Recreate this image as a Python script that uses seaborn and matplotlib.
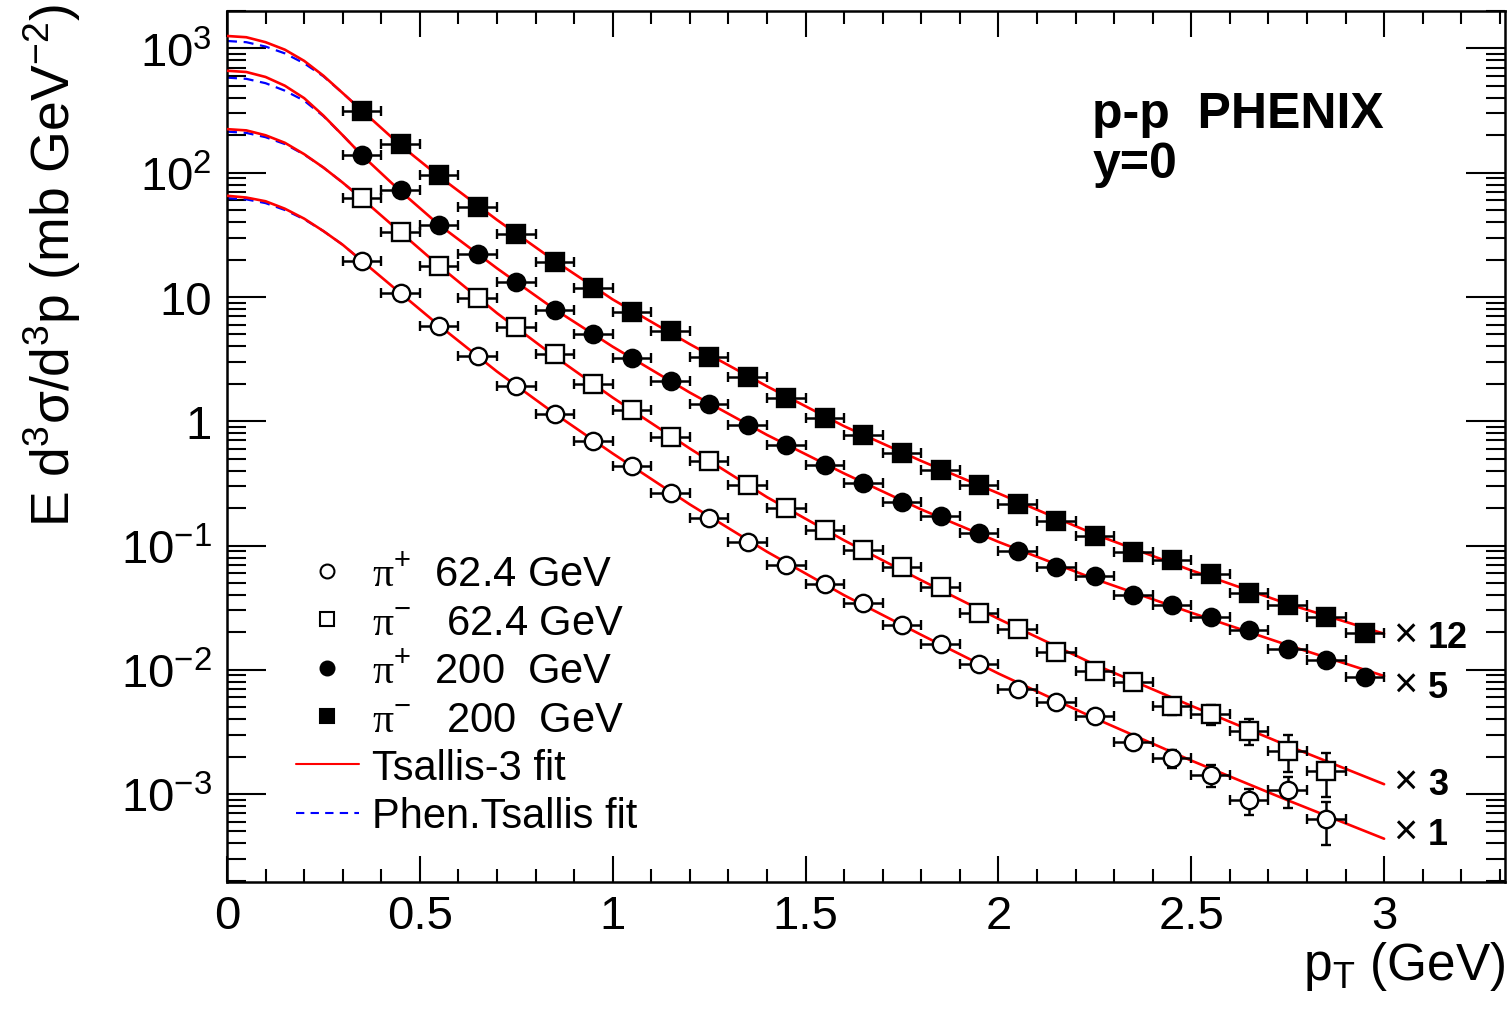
import matplotlib
matplotlib.use("Agg")
import matplotlib.pyplot as plt
from matplotlib.lines import Line2D
from matplotlib.ticker import FixedLocator, FixedFormatter, LogLocator, NullFormatter
import numpy as np
import pandas as pd
import seaborn as sns

# ---------------- data ----------------
pt_200 = [0.35, 0.45, 0.55, 0.65, 0.75, 0.85, 0.95, 1.05, 1.15, 1.25, 1.35, 1.45, 1.55, 1.65,
          1.75, 1.85, 1.95, 2.05, 2.15, 2.25, 2.35, 2.45, 2.55, 2.65, 2.75, 2.85, 2.95]
pt_624 = [0.35, 0.45, 0.55, 0.65, 0.75, 0.85, 0.95, 1.05, 1.15, 1.25, 1.35, 1.45, 1.55, 1.65,
          1.75, 1.85, 1.95, 2.05, 2.15, 2.25, 2.35, 2.45, 2.55, 2.65, 2.75, 2.85]

# pi- 200 GeV (x12)
pim_200 = [315, 170, 96.2, 53.2, 32.1, 19.0, 11.9, 7.52, 5.29, 3.31, 2.28, 1.54, 1.07, 0.774,
           0.555, 0.407, 0.308, 0.216, 0.158, 0.120, 0.0883, 0.0764, 0.0590, 0.0415, 0.0332,
           0.0264, 0.0197]
# pi+ 200 GeV (x5)
pip_200 = [139, 72.1, 38.1, 22.0, 13.3, 7.88, 5.03, 3.21, 2.11, 1.37, 0.931, 0.644, 0.447,
           0.318, 0.223, 0.172, 0.125, 0.0908, 0.0675, 0.0566, 0.0401, 0.0334, 0.0267, 0.0209,
           0.0147, 0.0120, 0.00881]
# pi- 62.4 GeV (x3)
pim_624 = [62.1, 33.1, 17.8, 9.75, 5.76, 3.47, 1.99, 1.22, 0.750, 0.481, 0.308, 0.199, 0.133,
           0.0920, 0.0668, 0.0461, 0.0285, 0.0213, 0.0139, 0.00984, 0.00793, 0.00514, 0.00441,
           0.00324, 0.00223, 0.00154]
# pi+ 62.4 GeV (x1)
pip_624 = [19.5, 10.7, 5.86, 3.36, 1.91, 1.14, 0.697, 0.436, 0.264, 0.166, 0.106, 0.0701,
           0.0490, 0.0343, 0.0231, 0.0161, 0.0111, 0.00701, 0.00551, 0.00421, 0.00261, 0.00194,
           0.00143, 0.000890, 0.00108, 0.000631]

# relative vertical errors
relerr_200 = [0.03, 0.03, 0.03, 0.03, 0.03, 0.03, 0.03, 0.03, 0.03, 0.03, 0.03, 0.03, 0.03, 0.03,
              0.03, 0.03, 0.03, 0.03, 0.03, 0.03, 0.03, 0.03, 0.03, 0.03, 0.03, 0.03, 0.03]
relerr_pim_624 = [0.04, 0.04, 0.04, 0.04, 0.04, 0.04, 0.04, 0.04, 0.04, 0.04, 0.04, 0.04, 0.04,
                  0.04, 0.04, 0.04, 0.04, 0.04, 0.04, 0.04, 0.07, 0.16, 0.18, 0.24, 0.33, 0.38]
relerr_pip_624 = [0.04, 0.04, 0.04, 0.04, 0.04, 0.04, 0.04, 0.04, 0.04, 0.04, 0.04, 0.04, 0.04,
                  0.04, 0.04, 0.04, 0.04, 0.04, 0.04, 0.04, 0.07, 0.16, 0.20, 0.24, 0.28, 0.38]
bin_half_width = 0.05

# Tsallis-3 fit curves
pt_fit = [0.0, 0.05, 0.1, 0.15, 0.2, 0.25, 0.3, 0.35, 0.45, 0.55, 0.7, 0.85, 1.0, 1.2, 1.4,
          1.6, 1.8, 2.0, 2.25, 2.5, 2.75, 3.0]
fit_pim_200 = [1259, 1230, 1122, 977, 794, 603, 437, 316, 166, 93.3, 41.7, 19.5, 9.55, 4.17,
               1.91, 0.912, 0.479, 0.263, 0.123, 0.0631, 0.0339, 0.0195]
fit_pip_200 = [661, 646, 589, 501, 398, 288, 200, 138, 70.8, 38.0, 17.0, 7.94, 3.98, 1.70,
               0.776, 0.380, 0.195, 0.107, 0.0537, 0.0288, 0.0158, 0.00891]
fit_pim_624 = [224, 219, 200, 174, 141, 110, 83.2, 61.7, 33.1, 17.8, 7.41, 3.31, 1.55, 0.603,
               0.245, 0.110, 0.0525, 0.0257, 0.0110, 0.00513, 0.00245, 0.00120]
fit_pip_624 = [65.2, 63.1, 58.9, 51.3, 42.7, 33.9, 26.3, 19.5, 10.7, 5.89, 2.51, 1.15, 0.550,
               0.214, 0.0891, 0.0398, 0.0191, 0.00933, 0.00407, 0.00186, 0.000891, 0.000437]

# Phenomenological Tsallis fit (visible only at low pT)
pt_phen = [0.0, 0.05, 0.1, 0.15, 0.2, 0.25, 0.3, 0.35]
phen_pim_200 = [1148, 1122, 1035, 912, 759, 596, 437, 316]
phen_pip_200 = [582, 569, 525, 457, 380, 285, 200, 138]
phen_pim_624 = [214, 209, 193, 170, 140, 110, 83.2, 61.7]
phen_pip_624 = [62.4, 61.0, 56.9, 50.1, 42.2, 33.9, 26.3, 19.5]

scale_labels = ["12", "5", "3", "1"]
scale_label_y = [0.01525, 0.00604, 0.001002, 0.000397]

legend_labels = [r"$\mathsf{\pi}^{+}$  62.4 GeV", r"$\mathsf{\pi}^{-}$   62.4 GeV",
                 r"$\mathsf{\pi}^{+}$  200  GeV", r"$\mathsf{\pi}^{-}$   200  GeV",
                 "Tsallis-3 fit", "Phen.Tsallis fit"]

x_ticks = [0, 0.5, 1, 1.5, 2, 2.5, 3]
x_ticklabels = ["0", "0.5", "1", "1.5", "2", "2.5", "3"]
y_ticks = [1e-3, 1e-2, 1e-1, 1, 10, 100, 1000]
y_ticklabels = [r"$10^{-3}$", r"$10^{-2}$", r"$10^{-1}$", "1", "10", r"$10^{2}$", r"$10^{3}$"]

# ---------------- style ----------------
sns.set_theme(style="ticks")
plt.rcParams["font.family"] = ["Liberation Sans", "DejaVu Sans"]
plt.rcParams["mathtext.fontset"] = "custom"
plt.rcParams["mathtext.rm"] = "Liberation Sans"
plt.rcParams["mathtext.it"] = "Liberation Sans:italic"
plt.rcParams["mathtext.bf"] = "Liberation Sans:bold"
plt.rcParams["mathtext.sf"] = "Liberation Serif"
plt.rcParams["axes.linewidth"] = 1.8

W, H = 1511, 1012
fig = plt.figure(figsize=(W / 100, H / 100), dpi=100)
fig.patch.set_facecolor("white")
ax_l, ax_r, ax_t, ax_b = 227, 1505, 12, 883
ax = fig.add_axes([ax_l / W, 1 - ax_b / H, (ax_r - ax_l) / W, (ax_b - ax_t) / H])
ax.set_facecolor("white")
ax.set_yscale("log")

RED = "#ff0000"
BLUE = "#0000ff"

# fit curves
for yv in [phen_pim_200, phen_pip_200, phen_pim_624, phen_pip_624]:
    sns.lineplot(x=pt_phen, y=yv, ax=ax, color=BLUE, lw=1.6, linestyle=(0, (4.5, 3.0)),
                 estimator=None, sort=False, legend=False, zorder=2)
for yv in [fit_pim_200, fit_pip_200, fit_pim_624, fit_pip_624]:
    sns.lineplot(x=pt_fit, y=yv, ax=ax, color=RED, lw=1.9, estimator=None, sort=False,
                 legend=False, zorder=3)

# data points
series = [
    (pt_624, pip_624, relerr_pip_624, "o", "white", 12.5),
    (pt_624, pim_624, relerr_pim_624, "s", "white", 12.5),
    (pt_200, pip_200, relerr_200, "o", "black", 12.5),
    (pt_200, pim_200, relerr_200, "s", "black", 12.5),
]
for xs, ys, re, mk, fc, ms in series:
    ya = np.array(ys)
    ea = ya * np.array(re)
    ax.errorbar(xs, ys, xerr=bin_half_width, yerr=[ea, ea], fmt=mk, ms=ms, mfc=fc, mec="black",
                mew=1.7, ecolor="black", elinewidth=1.8, capsize=3.6, capthick=1.8, zorder=4)

# axes
ax.set_xlim(0, (ax_r - ax_l) / 385.7)
ax.set_ylim(1.96e-4, 2.0e3)
ax.xaxis.set_major_locator(FixedLocator(x_ticks))
ax.xaxis.set_major_formatter(FixedFormatter(x_ticklabels))
ax.xaxis.set_minor_locator(FixedLocator(np.arange(0, 3.35, 0.1)))
ax.yaxis.set_major_locator(FixedLocator(y_ticks))
ax.yaxis.set_major_formatter(FixedFormatter(y_ticklabels))
ax.yaxis.set_minor_locator(LogLocator(base=10, subs=np.arange(2, 10), numticks=30))
ax.yaxis.set_minor_formatter(NullFormatter())
ax.tick_params(axis="x", which="major", direction="in", length=19, width=1.5, top=True,
               labelsize=34, pad=9, color="black", labelcolor="black")
ax.tick_params(axis="x", which="minor", direction="in", length=9.5, width=1.5, top=True,
               color="black")
ax.tick_params(axis="y", which="major", direction="in", length=28, width=1.5, right=True,
               labelsize=34, pad=11, color="black", labelcolor="black")
ax.tick_params(axis="y", which="minor", direction="in", length=14, width=1.5, right=True,
               color="black")
for s in ax.spines.values():
    s.set_visible(True)
    s.set_color("black")
    s.set_linewidth(1.8)
ax.grid(False)

# axis titles
fig.text(52 / W, 1 - 4 / H, r"E d$^{3}$σ/d$^{3}$p (mb GeV$^{-2}$)", rotation=90,
         ha="center", va="top", fontsize=38.5, color="black")
ax.set_xlabel(r"p$_{\mathrm{T}}$ (GeV)", fontsize=37, color="black", loc="right")
ax.xaxis.set_label_coords(1.0, -0.066)
ax.xaxis.label.set_ha("right")

# annotations
ax.text(0.677, 0.8668, "p-p  PHENIX", transform=ax.transAxes, fontsize=36, fontweight="bold",
        ha="left", va="baseline", color="black")
ax.text(0.677, 0.8094, "y=0", transform=ax.transAxes, fontsize=36, fontweight="bold",
        ha="left", va="baseline", color="black")
for lab, yv in zip(scale_labels, scale_label_y):
    ax.text(3.023, yv, "×", fontsize=30, ha="left", va="baseline", color="black")
    ax.text(3.114, yv, lab, fontsize=26, fontweight="bold", ha="left", va="baseline",
            color="black")

# legend
handles = [
    Line2D([], [], marker="o", ls="none", mfc="white", mec="black", mew=1.5, ms=10),
    Line2D([], [], marker="s", ls="none", mfc="white", mec="black", mew=1.5, ms=10),
    Line2D([], [], marker="o", ls="none", mfc="black", mec="black", mew=1.5, ms=10),
    Line2D([], [], marker="s", ls="none", mfc="black", mec="black", mew=1.5, ms=10),
    Line2D([], [], color=RED, lw=1.5),
    Line2D([], [], color=BLUE, lw=1.5, ls=(0, (4, 3))),
]
leg = ax.legend(handles, legend_labels, loc="upper left", bbox_to_anchor=(0.054, 0.376),
                frameon=False, fontsize=30, handlelength=1.5, handletextpad=0.33,
                labelspacing=0.2, borderpad=0, borderaxespad=0)
for t in leg.get_texts():
    t.set_color("black")

fig.savefig("out.png", dpi=100, facecolor="white")
